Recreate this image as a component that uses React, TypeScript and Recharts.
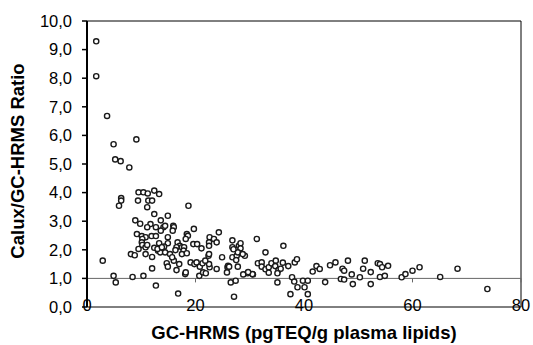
import {
  ScatterChart,
  Scatter,
  XAxis,
  YAxis,
  ReferenceLine,
  ReferenceArea,
  Label,
} from "recharts";

// GC-HRMS value (pgTEQ/g plasma lipids)
const gcHrms = [
  1.7, 1.7, 3.7, 4.9, 9.1, 5.2, 6.2, 7.8,
  9.5, 10.4, 11.2, 12.4, 13.3,
  6.3, 6.3, 5.9, 9.4, 11.3, 12.0, 11.1, 18.7,
  12.4, 8.9, 9.8, 13.6, 14.9,
  11.7, 12.7, 14.1, 15.9, 16.0, 15.8, 19.7,
  9.2, 10.1, 10.8, 11.9, 12.7, 13.6, 14.9, 18.4, 18.6, 18.2, 24.3,
  10.2, 10.1, 10.2, 12.4, 13.3, 14.9, 14.2, 16.7, 17.1, 16.5, 16.3, 9.5,
  17.5, 17.9, 17.8, 17.5, 18.4, 19.6, 20.3, 21.1, 22.6, 23.4, 22.5, 22.5,
  23.9, 26.8, 26.8, 28.0,
  8.1, 8.8, 10.8, 12.0, 13.1, 13.5, 14.4, 15.3, 14.7, 14.9, 16.0, 15.7,
  16.5, 17.0, 18.1, 18.2, 19.1, 19.8, 20.2, 20.8, 21.3, 20.7, 21.4, 21.9,
  22.6, 22.5, 23.9, 24.9, 21.8, 22.4, 22.5, 25.9, 26.0, 25.8, 26.5, 27.4,
  26.8, 27.6, 27.1,
  2.9, 4.9, 5.3, 8.4, 10.4, 12.7, 12.0, 16.8,
  28.3, 28.3, 27.8, 29.1, 28.7, 27.0, 26.2, 27.8, 27.5, 29.6, 28.8, 30.6,
  31.3, 36.2, 32.9, 31.5, 32.2, 32.2, 32.9, 33.5, 34.0, 34.8, 34.7, 35.3,
  35.7, 36.1, 37.1, 38.3, 38.7, 33.5, 30.5, 29.7, 35.1, 35.1, 37.8, 38.2,
  38.8, 37.5, 39.8, 40.7, 40.1, 40.7, 41.6, 42.3, 42.9, 43.9, 44.8, 45.8,
  47.1, 47.4, 46.8, 47.4, 48.1, 48.8, 49.0, 50.3, 50.9, 51.2, 52.3, 52.3,
  53.6, 54.0, 54.4, 55.5, 54.0, 54.9, 58.0, 58.7, 60.0, 61.3, 65.1, 68.3,
  73.8,
  11.1, 14.4, 13.0, 13.8, 10.8, 11.1,
];

// Calux/GC-HRMS ratio
const ratio = [
  9.29, 8.07, 6.68, 5.69, 5.86, 5.16, 5.1, 4.88,
  4.01, 4.01, 3.97, 4.07, 3.95,
  3.81, 3.72, 3.54, 3.72, 3.72, 3.72, 3.49, 3.54,
  3.25, 3.03, 2.91, 3.03, 3.19,
  2.9, 2.79, 2.79, 2.84, 2.79, 2.67, 2.73,
  2.55, 2.48, 2.44, 2.48, 2.48, 2.67, 2.44, 2.55, 2.49, 2.38, 2.61,
  2.38, 2.26, 2.17, 2.07, 2.23, 2.23, 2.11, 2.26, 2.14, 2.09, 1.99, 2.03,
  2.09, 2.09, 1.97, 1.85, 1.88, 2.2, 2.2, 2.05, 2.44, 2.38, 2.26, 2.14,
  2.26, 2.33, 2.09, 2.14,
  1.85, 1.81, 1.85, 1.75, 1.97, 1.91, 1.91, 1.85, 1.53, 1.41, 1.62, 1.74,
  1.29, 1.5, 1.15, 1.21, 1.56, 1.5, 1.56, 1.41, 1.53, 1.09, 1.21, 1.18,
  1.39, 1.5, 1.33, 1.74, 1.62, 1.79, 1.85, 1.39, 1.44, 1.21, 0.86, 0.92,
  1.74, 1.79, 0.36,
  1.62, 1.09, 0.86, 1.05, 1.09, 0.75, 1.35, 0.47,
  2.23, 2.05, 1.91, 1.79, 1.85, 2.02, 1.41, 1.41, 1.64, 1.18, 1.14, 1.14,
  2.38, 2.14, 1.91, 1.53, 1.56, 1.41, 1.32, 1.39, 1.53, 1.62, 1.43, 1.29,
  1.34, 1.55, 1.43, 1.56, 1.67, 1.2, 1.15, 1.22, 1.18, 0.86, 1.04, 0.89,
  0.69, 0.45, 0.92, 0.92, 0.69, 0.45, 1.24, 1.43, 1.33, 0.87, 1.46, 1.56,
  1.34, 1.27, 0.98, 0.96, 1.62, 1.14, 0.8, 1.04, 1.34, 1.62, 1.22, 0.8,
  1.53, 1.5, 1.39, 1.44, 1.05, 1.09, 1.04, 1.15, 1.27, 1.39, 1.05, 1.34,
  0.63,
  2.79, 2.84, 2.03, 2.09, 2.09, 2.17,
];

const xTicks = [0, 20, 40, 60, 80];
const yTicks = [0, 1, 2, 3, 4, 5, 6, 7, 8, 9, 10];

const points = gcHrms.map((x, i) => ({ x, y: ratio[i] }));

const font = "'Liberation Sans', Arial, sans-serif";
const fmt = (v: number) => v.toFixed(1).replace(".", ",");

const Dot = (p: any) => (
  <circle cx={p.cx} cy={p.cy} r={2.6} fill="#fff" stroke="#1a1a1a" strokeWidth={1.4} />
);

const XTick = ({ x, y, payload }: any) => (
  <text x={x} y={y + 4} textAnchor="middle" fontSize={16.5} fill="#000" fontFamily={font}>
    {payload.value}
  </text>
);

export default function App() {
  return (
    <div style={{ position: "absolute", left: 0, top: 0, background: "#fff" }}>
      <ScatterChart
        width={533}
        height={345}
        margin={{ top: 21, right: 12, bottom: 8, left: 0 }}
      >
        <XAxis
          type="number"
          dataKey="x"
          domain={[0, 80]}
          ticks={xTicks}
          axisLine={false}
          tickLine={false}
          tickSize={0}
          tickMargin={0}
          height={30}
          tick={<XTick />}
          interval={0}
        >
          <Label
            content={() => (
              <text x={304} y={339} textAnchor="middle" fontSize={18.5} fontWeight="bold" fill="#000" fontFamily={font}>
                GC-HRMS (pgTEQ/g plasma lipids)
              </text>
            )}
          />
        </XAxis>
        <YAxis
          type="number"
          dataKey="y"
          domain={[0, 10]}
          ticks={yTicks}
          interval={0}
          width={87}
          tickSize={5}
          tickMargin={10}
          tickFormatter={fmt}
          tick={{ fontSize: 16.5, fill: "#000", fontFamily: font }}
          axisLine={{ stroke: "#000", strokeWidth: 2 }}
          tickLine={{ stroke: "#000", strokeWidth: 1.5 }}
        >
          <Label
            content={() => (
              <text
                x={24}
                y={161}
                transform="rotate(-90 24 161)"
                textAnchor="middle"
                fontSize={18.5}
                fontWeight="bold"
                fill="#000"
                fontFamily={font}
              >
                Calux/GC-HRMS Ratio
              </text>
            )}
          />
        </YAxis>
        <ReferenceArea
          x1={0}
          x2={80}
          y1={0}
          y2={10}
          fill="none"
          stroke="#000"
          strokeWidth={1}
          ifOverflow="visible"
        />
        <ReferenceLine y={1} stroke="#666" strokeWidth={1} />
        {xTicks.map((t) => (
          <ReferenceLine
            key={t}
            segment={[
              { x: t, y: 1 },
              { x: t, y: 0.86 },
            ]}
            stroke="#666"
            strokeWidth={1}
          />
        ))}
        <Scatter data={points} shape={Dot} isAnimationActive={false} />
      </ScatterChart>
    </div>
  );
}
